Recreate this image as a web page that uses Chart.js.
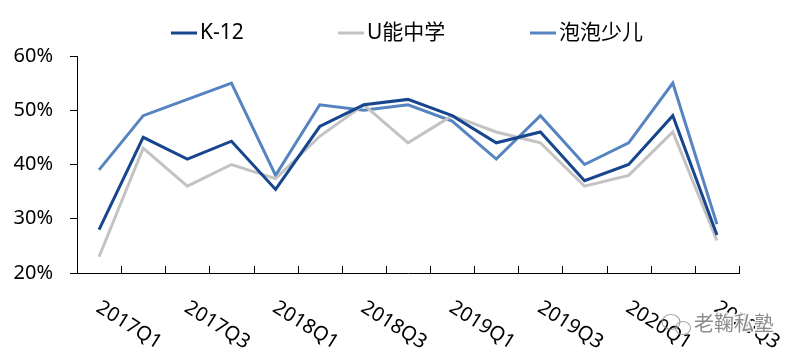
<!DOCTYPE html>
<html>
<head>
<meta charset="utf-8">
<script src="https://cdn.jsdelivr.net/npm/chart.js@4.4.1/dist/chart.umd.min.js"></script>
<style>
html,body{margin:0;padding:0;background:#fff;}
#wrap{width:794px;height:359px;position:relative;}
</style>
</head>
<body>
<div id="wrap"><canvas id="c" width="794" height="359"></canvas></div>
<script>
const categories = ["2017Q1","2017Q2","2017Q3","2017Q4","2018Q1","2018Q2","2018Q3","2018Q4","2019Q1","2019Q2","2019Q3","2019Q4","2020Q1","2020Q2","2020Q3"];
const seriesNames = ["K-12","U能中学","泡泡少儿"];
const k12 = [28,45,41,44.3,35.4,47,51,52,49,44,46,37,40,49,27];
const uneng = [23,43,36,40,37.4,45.2,51,44,49,46,44,36,38,46,26];
const paopao = [39,49,52,55,38,51,50,51,48,41,49,40,44,55,29];
const yTicks = [20,30,40,50,60];
const colors = ["#17468E","#C3C3C3","#5584C0"];
const FONT = "'Noto Sans', 'Noto Sans CJK SC', sans-serif";

const drawPlugin = {
  id: 'custom',
  afterDraw(chart) {
    const ctx = chart.ctx;
    const xs = chart.scales.x;
    const area = chart.chartArea;
    ctx.save();
    // inward x ticks at category boundaries
    ctx.strokeStyle = '#000';
    ctx.lineWidth = 1;
    for (let i = 0; i <= categories.length; i++) {
      const px = Math.round(xs.getPixelForValue(i - 0.5)) + 0.5;
      ctx.beginPath();
      ctx.moveTo(px, area.bottom);
      ctx.lineTo(px, area.bottom - 7);
      ctx.stroke();
    }
    // rotated x labels (every other)
    ctx.fillStyle = '#000';
    ctx.font = '20px ' + FONT;
    ctx.textAlign = 'left';
    ctx.textBaseline = 'middle';
    categories.forEach((c, i) => {
      if (i % 2 !== 0) return;
      const px = xs.getPixelForValue(i);
      ctx.save();
      ctx.translate(px - 1, area.bottom + 33);
      ctx.rotate(32 * Math.PI / 180);
      ctx.fillText(c, 0, 0);
      ctx.restore();
    });
    // legend
    const legendX = [171, 338, 530];
    ctx.font = '21px ' + FONT;
    ctx.textBaseline = 'middle';
    seriesNames.forEach((n, i) => {
      ctx.strokeStyle = colors[i];
      ctx.lineWidth = 3;
      ctx.beginPath();
      ctx.moveTo(legendX[i], 33);
      ctx.lineTo(legendX[i] + 26, 33);
      ctx.stroke();
      ctx.fillStyle = '#000';
      ctx.fillText(n, legendX[i] + 29, 33);
    });
    // watermark
    ctx.font = '20px ' + FONT;
    ctx.fillStyle = 'rgba(120,120,120,0.85)';
    ctx.strokeStyle = 'rgba(255,255,255,0.9)';
    ctx.lineWidth = 3;
    ctx.strokeText('老鞠私塾', 694, 325);
    ctx.fillText('老鞠私塾', 694, 325);
    ctx.strokeStyle = 'rgba(150,150,150,0.8)';
    ctx.lineWidth = 1.2;
    ctx.beginPath(); ctx.ellipse(671, 322, 9, 7.5, 0, 0, Math.PI * 2); ctx.stroke();
    ctx.beginPath(); ctx.ellipse(683, 328, 7.5, 6.5, 0, 0, Math.PI * 2); ctx.stroke();
    ctx.restore();
  }
};

new Chart(document.getElementById('c'), {
  type: 'line',
  data: {
    labels: categories,
    datasets: [
      {label: seriesNames[0], data: k12, borderColor: colors[0], backgroundColor: colors[0]},
      {label: seriesNames[1], data: uneng, borderColor: colors[1], backgroundColor: colors[1]},
      {label: seriesNames[2], data: paopao, borderColor: colors[2], backgroundColor: colors[2]}
    ].map(d => Object.assign(d, {borderWidth: 3, pointRadius: 0, tension: 0, fill: false}))
  },
  options: {
    responsive: false,
    animation: false,
    devicePixelRatio: 1,
    layout: {padding: {top: 56, right: 55, left: 0, bottom: 0}},
    plugins: {legend: {display: false}, tooltip: {enabled: false}},
    scales: {
      x: {
        offset: true,
        grid: {display: true, drawOnChartArea: false, drawTicks: false, color: 'rgba(0,0,0,0)'},
        border: {display: true, color: '#000', width: 1},
        ticks: {display: false},
        afterFit(s) { s.height = 86; }
      },
      y: {
        min: 20, max: 60,
        afterBuildTicks(s) { s.ticks = yTicks.map(v => ({value: v})); },
        grid: {display: true, drawOnChartArea: false, drawTicks: true, tickLength: 7, color: '#000'},
        border: {display: true, color: '#000', width: 1},
        ticks: {
          color: '#000', padding: 17,
          font: {family: FONT, size: 20},
          callback: v => v + '%'
        },
        afterFit(s) { s.width = 77; }
      }
    }
  },
  plugins: [drawPlugin]
});
</script>
</body>
</html>
